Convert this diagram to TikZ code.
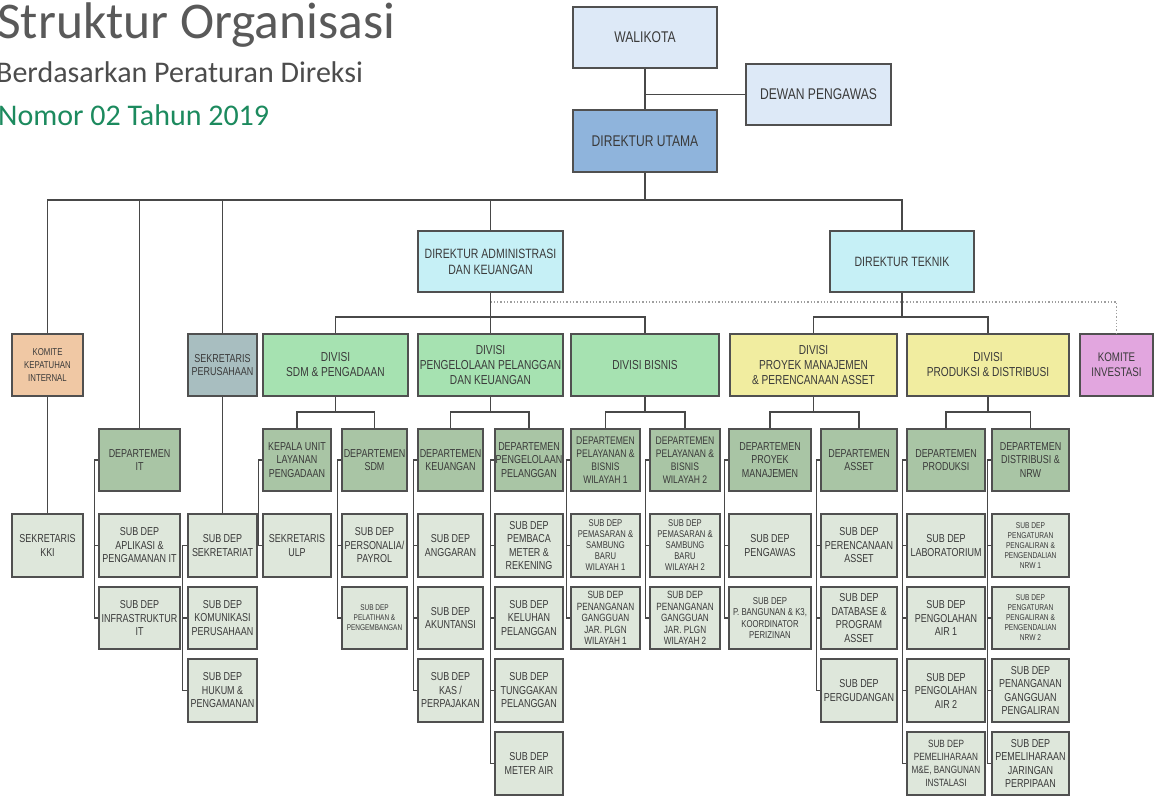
\documentclass[tikz,border=0pt]{standalone}
\usepackage{fontspec}
\newfontfamily\bxf[FakeStretch=0.78]{Liberation Sans}
\newfontfamily\ttlf{Carlito}
\definecolor{bordc}{HTML}{505050}
\definecolor{linec}{HTML}{484848}
\definecolor{txtc}{HTML}{3A3A3A}
\definecolor{titlec}{HTML}{595959}
\definecolor{nomorc}{HTML}{1C8A5E}
\definecolor{paleblue}{HTML}{DDE9F7}
\definecolor{midblue}{HTML}{8FB4DC}
\definecolor{dircyan}{HTML}{C6F0F6}
\definecolor{divgreen}{HTML}{A6E2B1}
\definecolor{divyellow}{HTML}{F1EDA0}
\definecolor{kinvpink}{HTML}{E2A6DF}
\definecolor{kkipeach}{HTML}{F0C8A4}
\definecolor{sekgrey}{HTML}{A8BEC0}
\definecolor{deptgreen}{HTML}{A9C5A5}
\definecolor{subgreen}{HTML}{DEE7DB}
\newcommand\tsz[2]{\fontsize{#1}{#2}\selectfont}
% box: style, name, x1, y1, x2, y2, text
\newcommand\bx[7]{\node[#1, minimum width={(#5-#3)*1pt}, minimum height={(#6-#4)*1pt}] (#2) at ({(#3+#5)/2},{(#4+#6)/2}) {#7};}
\tikzset{
  box/.style={draw=bordc, line width=1.3pt, inner sep=0.5pt, align=center, text=txtc, font=\bxf\tsz{11.5}{13.5}},
  topbox/.style={box, fill=paleblue, font=\bxf\tsz{15.5}{18}},
  dirutbox/.style={box, fill=midblue, font=\bxf\tsz{15.5}{18}},
  dirbox/.style={box, fill=dircyan, font=\bxf\tsz{13.5}{16}},
  divg/.style={box, fill=divgreen, font=\bxf\tsz{13}{15}},
  divy/.style={box, fill=divyellow, font=\bxf\tsz{13}{15}},
  kinvbox/.style={box, fill=kinvpink, font=\bxf\tsz{12.5}{15}},
  kkibox/.style={box, fill=kkipeach, font=\bxf\tsz{10}{13}},
  sekbox/.style={box, fill=sekgrey},
  dept/.style={box, fill=deptgreen},
  sub/.style={box, fill=subgreen},
  link/.style={draw=linec, line width=1.2pt},
  dotlink/.style={draw=gray!75, line width=1.3pt, dash pattern=on 1.3pt off 2pt},
}
\begin{document}
\begin{tikzpicture}[x=1pt,y=-1pt]
\useasboundingbox (0,0) rectangle (1155,800);

% heading
\node[anchor=base west, inner sep=0, text=titlec, font=\ttlf\tsz{51.5}{52}] (ttl) at (-3,38) {Struktur Organisasi};
\node[anchor=base west, inner sep=0, text=titlec!85!black, font=\ttlf\tsz{30}{30}] (ttl2) at (-4,82) {Berdasarkan Peraturan Direksi};
\node[anchor=base west, inner sep=0, text=nomorc, font=\ttlf\tsz{30}{30}] (ttl3) at (-2,125) {Nomor 02 Tahun 2019};

% top level
\bx{topbox}{wali}{573}{7}{717}{68}{WALIKOTA}
\bx{topbox}{dewas}{746}{64}{891}{125}{DEWAN PENGAWAS}
\bx{dirutbox}{dirut}{573}{110}{717}{172}{DIREKTUR UTAMA}
\bx{dirbox}{dadm}{418}{231}{563}{292}{DIREKTUR ADMINISTRASI\\DAN KEUANGAN}
\bx{dirbox}{dtek}{830}{231}{974}{292}{DIREKTUR TEKNIK}

% units and divisions
\bx{kkibox}{kki}{12}{334}{83}{396}{KOMITE\\KEPATUHAN\\INTERNAL}
\bx{sekbox}{sekper}{188}{334}{257}{396}{SEKRETARIS\\PERUSAHAAN}
\bx{divg}{dsdm}{263}{334}{408}{396}{DIVISI\\SDM \& PENGADAAN}
\bx{divg}{dppk}{418}{334}{563}{396}{DIVISI\\PENGELOLAAN PELANGGAN\\DAN KEUANGAN}
\bx{divg}{dbis}{571}{334}{719}{396}{DIVISI BISNIS}
\bx{divy}{dpro}{730}{334}{897}{396}{DIVISI\\PROYEK MANAJEMEN\\\& PERENCANAAN ASSET}
\bx{divy}{dprd}{907}{334}{1069}{396}{DIVISI\\PRODUKSI \& DISTRIBUSI}
\bx{kinvbox}{kinv}{1080}{334}{1153}{396}{KOMITE\\INVESTASI}

% departments
\bx{dept}{depit}{99}{429}{180}{491}{DEPARTEMEN\\IT}
\bx{dept}{kulp}{263}{429}{331}{491}{KEPALA UNIT\\LAYANAN\\PENGADAAN}
\bx{dept}{depsdm}{342}{429}{407}{491}{DEPARTEMEN\\SDM}
\bx{dept}{depkeu}{418}{429}{483}{491}{DEPARTEMEN\\KEUANGAN}
\bx{dept}{deppp}{495}{429}{563}{491}{DEPARTEMEN\\PENGELOLAAN\\PELANGGAN}
\bx{dept, font=\bxf\tsz{11}{13}}{depw1}{571}{429}{640}{491}{DEPARTEMEN\\PELAYANAN \&\\BISNIS\\WILAYAH 1}
\bx{dept, font=\bxf\tsz{11}{13}}{depw2}{650}{429}{720}{491}{DEPARTEMEN\\PELAYANAN \&\\BISNIS\\WILAYAH 2}
\bx{dept}{deppm}{729}{429}{811}{491}{DEPARTEMEN\\PROYEK\\MANAJEMEN}
\bx{dept}{depas}{821}{429}{897}{491}{DEPARTEMEN\\ASSET}
\bx{dept}{depprd}{907}{429}{985}{491}{DEPARTEMEN\\PRODUKSI}
\bx{dept}{depdn}{992}{429}{1069}{491}{DEPARTEMEN\\DISTRIBUSI \&\\NRW}

% sub departments
\bx{sub}{skki}{12}{514}{83}{577}{SEKRETARIS\\KKI}
\bx{sub}{sit1}{99}{514}{180}{577}{SUB DEP\\APLIKASI \&\\PENGAMANAN IT}
\bx{sub}{sit2}{99}{587}{180}{649}{SUB DEP\\INFRASTRUKTUR\\IT}
\bx{sub}{ssk1}{188}{514}{257}{577}{SUB DEP\\SEKRETARIAT}
\bx{sub}{ssk2}{188}{587}{257}{649}{SUB DEP\\KOMUNIKASI\\PERUSAHAAN}
\bx{sub}{ssk3}{188}{659}{257}{722}{SUB DEP\\HUKUM \&\\PENGAMANAN}
\bx{sub}{sulp}{263}{514}{331}{577}{SEKRETARIS\\ULP}
\bx{sub}{ssdm1}{342}{514}{407}{577}{SUB DEP\\PERSONALIA/\\PAYROL}
\bx{sub, font=\bxf\tsz{8.3}{10}}{ssdm2}{342}{587}{407}{649}{SUB DEP\\PELATIHAN \&\\PENGEMBANGAN}
\bx{sub}{skeu1}{418}{514}{483}{577}{SUB DEP\\ANGGARAN}
\bx{sub}{skeu2}{418}{587}{483}{649}{SUB DEP\\AKUNTANSI}
\bx{sub}{skeu3}{418}{659}{483}{722}{SUB DEP\\KAS /\\PERPAJAKAN}
\bx{sub}{spp1}{495}{514}{563}{577}{SUB DEP\\PEMBACA\\METER \&\\REKENING}
\bx{sub}{spp2}{495}{587}{563}{649}{SUB DEP\\KELUHAN\\PELANGGAN}
\bx{sub}{spp3}{495}{659}{563}{722}{SUB DEP\\TUNGGAKAN\\PELANGGAN}
\bx{sub}{spp4}{495}{732}{563}{795}{SUB DEP\\METER AIR}
\bx{sub, font=\bxf\tsz{9.8}{11}}{sw11}{571}{514}{640}{577}{SUB DEP\\PEMASARAN \&\\SAMBUNG\\BARU\\WILAYAH 1}
\bx{sub, font=\bxf\tsz{10.5}{11.5}}{sw12}{571}{587}{640}{649}{SUB DEP\\PENANGANAN\\GANGGUAN\\JAR. PLGN\\WILAYAH 1}
\bx{sub, font=\bxf\tsz{9.8}{11}}{sw21}{650}{514}{720}{577}{SUB DEP\\PEMASARAN \&\\SAMBUNG\\BARU\\WILAYAH 2}
\bx{sub, font=\bxf\tsz{10.5}{11.5}}{sw22}{650}{587}{720}{649}{SUB DEP\\PENANGANAN\\GANGGUAN\\JAR. PLGN\\WILAYAH 2}
\bx{sub}{spm1}{729}{514}{811}{577}{SUB DEP\\PENGAWAS}
\bx{sub, font=\bxf\tsz{10}{11.5}}{spm2}{729}{587}{811}{649}{SUB DEP\\P. BANGUNAN \& K3,\\KOORDINATOR\\PERIZINAN}
\bx{sub}{sas1}{821}{514}{897}{577}{SUB DEP\\PERENCANAAN\\ASSET}
\bx{sub}{sas2}{821}{587}{897}{649}{SUB DEP\\DATABASE \&\\PROGRAM\\ASSET}
\bx{sub}{sas3}{821}{659}{897}{722}{SUB DEP\\PERGUDANGAN}
\bx{sub}{sprd1}{907}{514}{985}{577}{SUB DEP\\LABORATORIUM}
\bx{sub}{sprd2}{907}{587}{985}{649}{SUB DEP\\PENGOLAHAN\\AIR 1}
\bx{sub}{sprd3}{907}{659}{985}{722}{SUB DEP\\PENGOLAHAN\\AIR 2}
\bx{sub, font=\bxf\tsz{10.5}{13}}{sprd4}{907}{732}{985}{795}{SUB DEP\\PEMELIHARAAN\\M\&E, BANGUNAN\\INSTALASI}
\bx{sub, font=\bxf\tsz{8.5}{10}}{sdn1}{992}{514}{1069}{577}{SUB DEP\\PENGATURAN\\PENGALIRAN \&\\PENGENDALIAN\\NRW 1}
\bx{sub, font=\bxf\tsz{8.5}{10}}{sdn2}{992}{587}{1069}{649}{SUB DEP\\PENGATURAN\\PENGALIRAN \&\\PENGENDALIAN\\NRW 2}
\bx{sub}{sdn3}{992}{659}{1069}{722}{SUB DEP\\PENANGANAN\\GANGGUAN\\PENGALIRAN}
\bx{sub}{sdn4}{992}{732}{1069}{795}{SUB DEP\\PEMELIHARAAN\\JARINGAN\\PERPIPAAN}

% bus levels
\coordinate (busTop) at (0,200);
\coordinate (busDiv) at (0,317);
\coordinate (busDep) at (0,412);
\coordinate (dotRow) at (0,302);

% top connectors
\draw[link] (wali) -- (dirut);
\draw[link] (dewas.west) -- (dewas.west -| wali.south);
\draw[link] (dirut.south) -- (dirut.south |- busTop);
\draw[link] (kki.north) -- (kki.north |- busTop) -- (dtek.north |- busTop) -- (dtek.north);
\draw[link] (depit.north) -- (depit.north |- busTop);
\draw[link] (sekper.north) -- (sekper.north |- busTop);
\draw[link] (dadm.north) -- (dadm.north |- busTop);

% director to divisions
\draw[link] (dadm.south) -- (dadm.south |- busDiv);
\draw[link] (dsdm.north) -- (dsdm.north |- busDiv) -- (dbis.north |- busDiv) -- (dbis.north);
\draw[link] (dppk.north) -- (dppk.north |- busDiv);
\draw[link] (dtek.south) -- (dtek.south |- busDiv);
\draw[link] (dpro.north) -- (dpro.north |- busDiv) -- (dprd.north |- busDiv) -- (dprd.north);
\draw[dotlink] (dadm.south |- dotRow) -| (kinv.north);

% divisions to departments
\foreach \dv/\da/\db in {dsdm/kulp/depsdm, dppk/depkeu/deppp, dbis/depw1/depw2, dpro/deppm/depas, dprd/depprd/depdn}{
  \draw[link] (\dv.south) -- (\dv.south |- busDep);
  \draw[link] (\da.north) -- (\da.north |- busDep) -- (\db.north |- busDep) -- (\db.north);
}

% straight drops
\draw[link] (kki) -- (skki);
\draw[link] (sekper) -- (ssk1);

% side rails: head box, last box, boxes between
\foreach \hd/\lt/\mids in {depit/sit2/{sit1}, kulp/sulp/{}, depsdm/ssdm2/{ssdm1},
    depkeu/skeu3/{skeu1,skeu2}, deppp/spp4/{spp1,spp2,spp3},
    depw1/sw12/{sw11}, depw2/sw22/{sw21}, deppm/spm2/{spm1},
    depas/sas3/{sas1,sas2}, depprd/sprd4/{sprd1,sprd2,sprd3},
    depdn/sdn4/{sdn1,sdn2,sdn3}}{
  \draw[link] (\hd.west) -- ++(-4,0) |- (\lt.west);
  \foreach \m in \mids { \draw[link] (\m.west) -- ++(-4,0); }
}
\draw[link] (ssk1.west) -- ++(-5,0) |- (ssk3.west);
\draw[link] (ssk2.west) -- ++(-5,0);
\end{tikzpicture}
\end{document}
